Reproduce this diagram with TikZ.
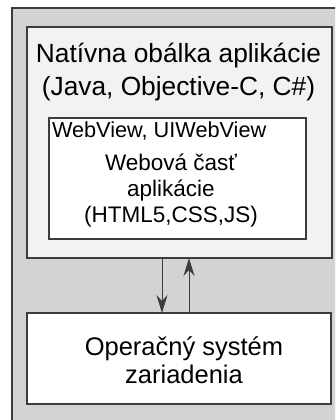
\documentclass[tikz,border=0pt]{standalone}
\usepackage{fontspec}
\setmainfont{Liberation Sans}
\usetikzlibrary{arrows.meta}
\definecolor{outerfill}{HTML}{D3D3D3}
\definecolor{nativefill}{HTML}{F2F2F2}
\definecolor{edge}{HTML}{3C3C3C}
\tikzset{
  panel/.style={rectangle, draw=edge, line width=1.1pt, inner sep=0pt, outer sep=0pt, anchor=north west},
  label/.style={inner sep=0pt, outer sep=0pt, align=center, text=black},
  flow/.style={draw=edge, line width=1pt, -{Stealth[length=18pt,width=11pt,inset=6pt]}}
}
\begin{document}
\begin{tikzpicture}[x=1pt,y=-1pt]
\useasboundingbox (0,0) rectangle (335,420);
\clip (0,0) rectangle (335,420);
\node[panel, fill=outerfill, minimum width=340pt, minimum height=420pt] (outer) at (12,8) {};
\node[panel, fill=nativefill, minimum width=305pt, minimum height=231pt] (native) at (27,27) {};
\node[panel, fill=white, minimum width=257pt, minimum height=121pt] (web) at (49,118) {};
\node[panel, fill=white, minimum width=304pt, minimum height=91pt] (os) at (27,313) {};
\node[label, font=\fontsize{26.3}{33}\selectfont] (title) at (178.5,72.5) {Natívna obálka aplikácie\\(Java, Objective-C, C\#)};
\node[label, anchor=base west, font=\fontsize{21.7}{25}\selectfont] (weblabel) at (52,137.5) {WebView, UIWebView};
\node[label, font=\fontsize{22.5}{26}\selectfont] (webtext) at (171,191) {Webová časť\\aplikácie\\(HTML5,CSS,JS)};
\node[label, font=\fontsize{25.5}{28.5}\selectfont] (ostext) at (184,360) {Operačný systém\\zariadenia};
\coordinate (xdown) at (162,0);
\coordinate (xup) at (189,0);
\draw[flow] (native.south -| xdown) -- (os.north -| xdown);
\draw[flow] (os.north -| xup) -- (native.south -| xup);
\end{tikzpicture}
\end{document}
